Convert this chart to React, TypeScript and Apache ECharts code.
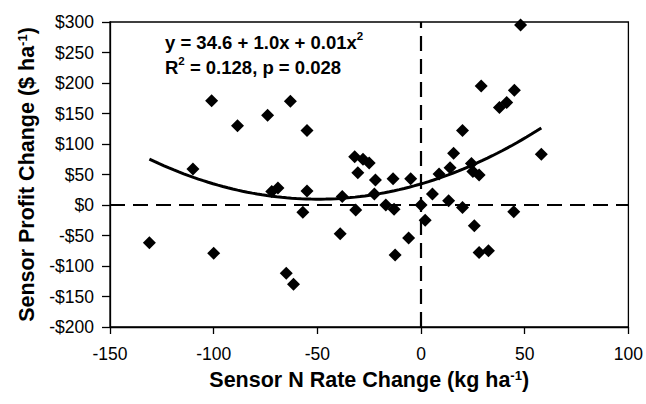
import React, { useEffect, useRef } from "react";
import * as echarts from "echarts";

// Sensor N rate change (kg/ha) vs sensor profit change ($/ha)
const nRateChange: number[] = [
  -131, -110, -101, -100, -88.5, -74, -72, -69, -65, -63, -61.5, -57, -55, -55,
  -39, -38, -32, -31.5, -30.5, -28, -25, -22, -22.5, -17, -13.5, -13, -12.5, -5,
  -6, 0, 2, 5.5, 8.7, 13.3, 14, 15.7, 20, 20, 24.3, 25, 25.7, 28, 28, 29, 32.5,
  37.8, 41.3, 44.7, 45, 48, 58,
];
const profitChange: number[] = [
  -62, 59, 171, -79, 130, 147, 22, 28, -112, 170, -130, -12, 122, 23,
  -47, 14, 79, -8, 53, 75, 69, 41, 18, 0, 43, -7, -82, 43,
  -54, 0, -25, 18, 51, 7, 61, 85, 122, -4, 68, 55, -34, 49, -78, 195, -75,
  160, 168, -11, 188, 295, 83,
];
// Quadratic fit as printed on the chart: y = c0 + c1 x + c2 x^2
const fitCoefficients: number[] = [34.6, 1.0, 0.01];
const fitRange: number[] = [-131, 58];

const xTicks = { min: -150, max: 100, interval: 50 };
const yTicks = { min: -200, max: 300, interval: 50 };

const FONT = "'Liberation Sans', Arial, sans-serif";

export default function App() {
  const ref = useRef<HTMLDivElement>(null);
  useEffect(() => {
    if (!ref.current) return;
    const chart = echarts.init(ref.current, undefined, { renderer: "svg" });
    const points = nRateChange.map((x, i) => [x, profitChange[i]]);
    const curve: number[][] = [];
    const steps = 80;
    for (let i = 0; i <= steps; i++) {
      const x = fitRange[0] + ((fitRange[1] - fitRange[0]) * i) / steps;
      curve.push([x, fitCoefficients[0] + fitCoefficients[1] * x + fitCoefficients[2] * x * x]);
    }
    const titleRich = {
      b: { fontSize: 21.5, fontWeight: "bold", color: "#000", fontFamily: FONT },
      s: { fontSize: 13, fontWeight: "bold", color: "#000", fontFamily: FONT, verticalAlign: "top" },
    };
    chart.setOption({
      animation: false,
      textStyle: { fontFamily: FONT },
      grid: {
        left: 110,
        top: 22,
        right: 15,
        bottom: 77,
        show: true,
        borderColor: "#000",
        borderWidth: 1.3,
        backgroundColor: "transparent",
      },
      xAxis: {
        type: "value",
        min: xTicks.min,
        max: xTicks.max,
        interval: xTicks.interval,
        splitLine: { show: false },
        axisLine: { onZero: false, lineStyle: { color: "#000", width: 1.3 } },
        axisTick: { show: true, length: 7, lineStyle: { color: "#000", width: 1.3 } },
        axisLabel: { color: "#000", fontSize: 17.5, fontFamily: FONT, margin: 18 },
        name: "{b|Sensor N Rate Change (kg ha}{s|-1}{b|)}",
        nameLocation: "middle",
        nameGap: 42,
        nameTextStyle: { rich: titleRich },
      },
      yAxis: {
        type: "value",
        min: yTicks.min,
        max: yTicks.max,
        interval: yTicks.interval,
        splitLine: { show: false },
        axisLine: { onZero: false, lineStyle: { color: "#000", width: 1.3 } },
        axisTick: { show: true, length: 8, lineStyle: { color: "#000", width: 1.3 } },
        axisLabel: {
          color: "#000",
          fontSize: 17.5,
          fontFamily: FONT,
          margin: 16,
          formatter: (v: number) => (v < 0 ? "-$" + Math.abs(v) : "$" + v),
        },
        name: "{b|Sensor Profit Change ($ ha}{s|-1}{b|)}",
        nameLocation: "middle",
        nameRotate: 90,
        nameGap: 68,
        nameTextStyle: { rich: titleRich },
      },
      graphic: [
        {
          type: "text",
          left: 165,
          top: 30,
          style: {
            text: "{a|y = 34.6 + 1.0x + 0.01x}{s|2}\n{a|R}{s|2}{a| = 0.128, p = 0.028}",
            rich: {
              a: { fontSize: 18.5, fontWeight: "bold", fill: "#000", fontFamily: FONT, lineHeight: 25 },
              s: { fontSize: 11.5, fontWeight: "bold", fill: "#000", fontFamily: FONT, verticalAlign: "top", lineHeight: 25 },
            },
          },
        },
      ],
      series: [
        {
          type: "scatter",
          data: points,
          symbol: "diamond",
          symbolSize: 13,
          itemStyle: { color: "#000", opacity: 1 },
          z: 3,
          markLine: {
            silent: true,
            symbol: "none",
            label: { show: false },
            lineStyle: { color: "#000", width: 2.2, type: [15, 8], opacity: 1 },
            data: [{ xAxis: 0 }, { yAxis: 0 }],
            z: 1,
          },
        },
        {
          type: "line",
          data: curve,
          showSymbol: false,
          smooth: false,
          lineStyle: { color: "#000", width: 3 },
          z: 4,
        },
      ],
    });
    return () => chart.dispose();
  }, []);
  return (
    <div
      ref={ref}
      style={{ position: "fixed", left: 0, top: 0, width: 646, height: 404, background: "#fff" }}
    />
  );
}
